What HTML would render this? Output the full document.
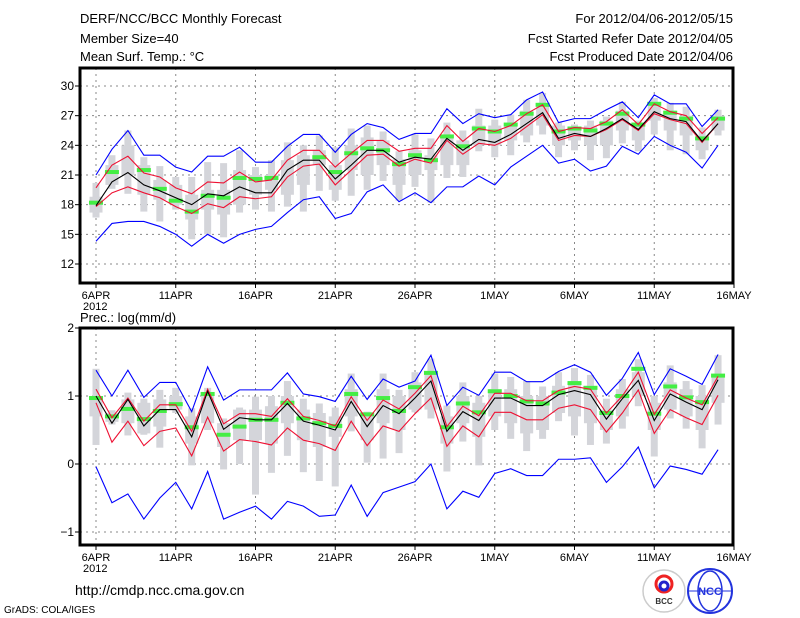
<!DOCTYPE html>
<html><head><meta charset="utf-8"><style>
body{margin:0;background:#fff;width:800px;height:618px;overflow:hidden}
svg{display:block;font-family:"Liberation Sans",sans-serif}
</style></head><body>
<svg id="chart" width="800" height="618">
<g font-size="13" fill="#000">
<text x="80" y="23">DERF/NCC/BCC Monthly Forecast</text>
<text x="80" y="43">Member Size=40</text>
<text x="80" y="61">Mean Surf. Temp.: °C</text>
<text x="733" y="23" text-anchor="end">For 2012/04/06-2012/05/15</text>
<text x="733" y="43" text-anchor="end">Fcst Started Refer Date 2012/04/05</text>
<text x="733" y="61" text-anchor="end">Fcst Produced Date 2012/04/06</text>
<text x="80" y="322">Prec.: log(mm/d)</text>
</g>
<text x="75" y="595" font-size="14">http://cmdp.ncc.cma.gov.cn</text>
<text x="4" y="613" font-size="10">GrADS: COLA/IGES</text>
<g>
<circle cx="664" cy="591" r="21" fill="#fff" stroke="#ccc" stroke-width="1.5"/>
<circle cx="664" cy="584" r="8" fill="none" stroke="#e22" stroke-width="3"/>
<circle cx="664" cy="586" r="4" fill="none" stroke="#22c" stroke-width="3"/>
<text x="664" y="604" font-size="8" text-anchor="middle" fill="#333" font-weight="bold">BCC</text>
</g>
<g>
<circle cx="710" cy="591" r="22" fill="#fff" stroke="#2233dd" stroke-width="2"/>
<ellipse cx="710" cy="591" rx="12" ry="20" fill="none" stroke="#2233dd" stroke-width="1.5"/>
<line x1="688" y1="591" x2="732" y2="591" stroke="#2233dd"/>
<text x="710" y="595" font-size="11" text-anchor="middle" fill="#2233dd" font-weight="bold">NCC</text>
</g>
</svg>
<script>
// ---- Temperature panel data (day 0 = 6APR) ----
const tempMedian=[17.9,20.3,21.25,20.0,19.4,18.7,18.0,19.1,18.9,19.8,19.2,19.2,21.5,22.5,22.5,20.6,22.0,23.5,23.5,22.3,22.8,22.6,24.7,23.5,24.6,24.3,25.1,26.2,27.3,24.7,25.2,24.9,25.7,26.7,25.6,27.4,26.7,26.4,24.4,26.2];
const tempRedHi=[19.7,22.0,22.9,21.2,20.8,19.7,19.1,20.3,20.2,21.3,20.3,20.5,22.5,23.5,23.5,21.8,23.2,24.5,24.5,23.4,23.7,23.7,26.0,24.4,25.7,25.4,26.0,27.2,28.1,25.4,25.8,25.7,26.4,27.6,26.1,28.2,27.4,27.0,25.2,26.8];
const tempRedLo=[17.8,19.2,19.8,19.2,18.7,17.8,17.1,18.1,17.7,18.8,18.6,18.8,20.8,21.9,22.1,20.0,21.5,23.0,23.1,21.9,22.6,22.2,24.5,23.1,24.2,24.0,24.7,25.9,27.1,24.5,25.0,24.9,25.6,26.6,25.5,27.2,26.6,26.2,24.3,26.2];
const tempBlueHi=[21.0,23.6,25.5,23.0,23.0,21.8,21.3,22.9,22.9,23.8,22.3,22.3,23.9,25.1,25.1,23.3,25.1,26.2,25.8,24.6,25.2,25.2,27.7,26.2,27.2,26.8,27.1,28.6,29.4,26.3,26.7,26.7,27.6,28.4,26.8,29.1,28.2,28.2,25.9,27.6];
const tempBlueLo=[14.3,16.1,16.3,16.3,15.8,15.0,13.8,15.0,14.1,15.0,15.5,15.8,17.2,18.5,18.8,16.6,17.1,19.3,20.0,18.3,19.2,18.2,19.8,19.8,20.9,20.0,21.8,22.9,24.0,22.2,22.6,21.4,21.9,23.9,23.1,24.9,24.0,23.3,21.7,24.0];
const tempMin=[16.7,19.6,19.1,17.3,16.3,17.5,14.5,15.0,14.7,17.2,17.5,17.3,17.8,17.3,19.4,18.4,18.9,19.5,20.4,18.4,19.8,18.2,20.7,20.8,23.4,22.8,23.0,24.3,25.1,22.8,23.5,22.5,22.7,24.2,23.4,25.1,23.5,23.1,22.6,25.0];
const tempMax=[20.2,23.0,25.5,22.8,21.9,20.8,20.8,22.3,22.2,23.5,21.8,22.5,24.3,24.0,25.0,23.8,25.7,26.0,25.4,23.4,25.1,24.7,26.3,25.5,27.7,26.6,27.1,28.6,29.3,26.3,26.1,26.5,26.9,28.4,26.5,28.8,28.3,27.9,25.8,27.6];
const tempQ1=[17.2,20.0,21.0,19.0,18.5,18.0,16.5,17.5,17.0,18.0,19.0,19.5,19.0,20.0,22.0,19.5,21.5,21.0,22.0,20.0,21.0,21.5,22.0,22.0,24.0,24.0,24.5,25.0,26.0,24.0,24.5,24.0,24.0,25.5,24.5,26.5,25.5,25.0,23.5,25.5];
const tempQ3=[18.8,22.0,24.0,22.0,20.5,20.0,19.0,19.5,19.5,21.5,21.0,21.0,22.5,23.0,23.5,22.0,24.0,24.8,24.5,22.6,23.5,23.0,25.0,24.5,26.0,26.0,26.0,27.5,28.0,26.0,25.8,26.0,26.5,27.5,26.0,28.0,27.5,27.0,25.0,27.0];
const tempGreen=[18.2,21.3,null,21.5,19.6,18.4,17.3,18.9,18.7,20.7,20.6,20.7,null,null,22.8,21.3,23.2,23.7,23.5,22.1,23.0,22.5,24.9,23.9,25.7,25.4,26.1,27.2,28.1,25.4,25.7,25.5,26.2,27.2,26.1,28.2,27.3,26.7,24.7,26.7];
const tempTicks=[12,15,18,21,24,27,30];
// ---- Precipitation panel data ----
const precMedian=[1.0,0.6,0.95,0.56,0.8,0.8,0.4,1.07,0.51,0.68,0.65,0.65,0.89,0.63,0.57,0.5,0.92,0.55,0.86,0.74,0.97,1.22,0.48,0.77,0.64,0.97,0.97,0.86,0.86,1.02,1.08,1.02,0.66,0.96,1.23,0.64,1.03,0.91,0.8,1.24];
const precRedHi=[1.1,0.68,0.97,0.63,0.87,0.87,0.48,1.1,0.59,0.74,0.74,0.7,0.96,0.7,0.64,0.56,0.99,0.64,0.94,0.81,1.04,1.3,0.55,0.85,0.71,1.04,1.04,0.93,0.93,1.08,1.14,1.1,0.75,1.0,1.35,0.73,1.09,0.97,0.87,1.29];
const precRedLo=[0.9,0.32,0.63,0.27,0.48,0.53,0.12,0.69,0.19,0.36,0.33,0.28,0.53,0.35,0.3,0.2,0.63,0.27,0.56,0.48,0.74,0.97,0.26,0.56,0.4,0.76,0.76,0.65,0.65,0.82,0.87,0.8,0.47,0.75,1.09,0.45,0.8,0.68,0.58,1.01];
const precBlueHi=[1.38,1.0,1.38,0.98,1.2,1.2,0.77,1.43,0.94,1.09,1.09,1.09,1.34,1.03,0.99,0.92,1.29,0.95,1.25,1.13,1.22,1.6,0.86,1.13,1.01,1.35,1.35,1.21,1.21,1.36,1.46,1.35,1.01,1.26,1.64,1.02,1.4,1.29,1.17,1.61];
const precBlueLo=[-0.04,-0.57,-0.44,-0.81,-0.5,-0.27,-0.66,-0.11,-0.81,-0.71,-0.62,-0.81,-0.55,-0.62,-0.77,-0.75,-0.31,-0.77,-0.42,-0.34,-0.26,0.0,-0.66,-0.4,-0.49,-0.14,-0.07,-0.17,-0.17,0.07,0.07,0.09,-0.27,-0.04,0.25,-0.35,-0.03,-0.08,-0.15,0.21];
const precMin=[0.28,0.58,0.42,0.43,0.24,0.75,-0.02,0.5,-0.08,0.0,-0.45,-0.13,0.12,-0.12,-0.25,-0.33,0.48,0.02,0.08,0.16,0.76,0.67,-0.11,0.33,-0.02,0.5,0.37,0.19,0.37,0.63,0.42,0.28,0.3,0.52,0.85,0.11,0.67,0.52,0.23,0.58];
const precMax=[1.4,0.79,1.05,0.96,1.09,1.12,0.82,1.12,0.67,0.83,0.99,1.0,1.22,0.96,0.89,0.83,1.33,0.77,1.33,1.09,1.35,1.55,0.86,1.2,1.0,1.33,1.28,1.22,1.14,1.35,1.41,1.31,0.96,1.25,1.54,1.0,1.45,1.22,1.16,1.6];
const precQ1=[0.7,0.62,0.6,0.45,0.55,0.8,0.3,0.6,0.25,0.35,0.35,0.3,0.6,0.35,0.25,0.4,0.7,0.35,0.6,0.5,0.8,0.8,0.3,0.6,0.4,0.7,0.6,0.45,0.5,0.75,0.7,0.6,0.5,0.7,1.0,0.5,0.8,0.7,0.5,0.9];
const precQ3=[1.0,0.75,0.95,0.9,0.95,1.0,0.7,1.05,0.6,0.8,0.8,0.85,1.0,0.8,0.75,0.7,1.1,0.7,1.1,1.0,1.2,1.35,0.7,1.0,0.9,1.1,1.1,1.0,1.0,1.15,1.2,1.15,0.8,1.1,1.35,0.9,1.2,1.1,1.0,1.3];
const precGreen=[0.97,0.7,0.81,0.66,0.78,0.88,0.54,1.03,0.43,0.55,0.65,0.65,0.9,0.67,0.6,0.56,1.03,0.73,0.97,0.78,1.13,1.34,0.54,0.89,0.76,1.07,1.0,0.92,0.89,1.05,1.19,1.12,0.75,1.0,1.4,0.74,1.14,0.98,0.91,1.3];
const precTicks=[-1,0,1,2];
const dateLabels=["6APR","11APR","16APR","21APR","26APR","1MAY","6MAY","11MAY","16MAY"];
const dateLabelDays=[0,5,10,15,20,25,30,35,40];

const NS="http://www.w3.org/2000/svg";
const svg=document.getElementById('chart');
function mk(tag,attrs,parent){const e=document.createElementNS(NS,tag);for(const k in attrs)e.setAttribute(k,attrs[k]);(parent||svg).appendChild(e);return e;}
const X0=80,X1=733;
function xDay(d){return 96+15.95*d;}

function panel(name,top,bottom,vTop,vBot,ticks,med,rh,rl,bh,bl,mn,mx,q1,q3,gr){
  const y=v=>top+(vTop-v)/(vTop-vBot)*(bottom-top);
  const g=mk('g',{});
  
  
  // grid
  ticks.forEach(t=>{
    const l=mk('line',{x1:X0,x2:X1,y1:y(t),y2:y(t),stroke:'#888','stroke-dasharray':'2,4'},g);
    
    
    mk('line',{x1:X0-5,x2:X0,y1:y(t),y2:y(t),stroke:'#000'},g);
    const tx=mk('text',{x:X0-6,y:y(t)+4,'font-size':12,'text-anchor':'end'},g);
    tx.textContent=t<0?'\u2212'+Math.abs(t):t;
    
    
  });
  dateLabelDays.forEach((d,i)=>{
    const x=xDay(d);
    if(i<dateLabelDays.length-1){
      const l=mk('line',{x1:x,x2:x,y1:top,y2:bottom,stroke:'#888','stroke-dasharray':'2,4'},g);
      
      
    }
    mk('line',{x1:x,x2:x,y1:bottom,y2:bottom+5,stroke:'#000'},g);
    const tx=mk('text',{x:x,y:bottom+16,'font-size':11,'text-anchor':'middle'},g);
    tx.textContent=dateLabels[i];
    
    
  });
  const yr=mk('text',{x:xDay(0)-13,y:bottom+27,'font-size':11},g);
  yr.textContent='2012';
  
  
  // gray boxes
  for(let d=0;d<mn.length;d++){
    const x=xDay(d);
    const w=mk('rect',{x:x-3.5,y:y(mx[d]),width:7,height:y(mn[d])-y(mx[d]),fill:'#d4d5da'},g);
    
    
    const b=mk('rect',{x:x-6.5,y:y(q3[d]),width:13,height:y(q1[d])-y(q3[d]),fill:'#d4d5da'},g);
    
    
  }
  // green marks
  for(let d=0;d<gr.length;d++){
    if(gr[d]===null)continue;
    const x=xDay(d);
    const r=mk('rect',{x:x-7,y:y(gr[d])-2,width:14,height:4,fill:'#44ee44'},g);
    
    
  }
  const line=(arr,col,nm)=>{
    const p=mk('polyline',{points:arr.map((v,d)=>xDay(d)+','+y(v)).join(' '),fill:'none',stroke:col,'stroke-width':1.1},g);
    
    
  };
  line(bh,'#0000ff','blue-upper-line');
  line(bl,'#0000ff','blue-lower-line');
  line(rh,'#ee1133','red-upper-line');
  line(rl,'#ee1133','red-lower-line');
  line(med,'#000','median-line');
  const f=mk('rect',{x:X0,y:top,width:X1-X0,height:bottom-top,fill:'none',stroke:'#000','stroke-width':3},g);
  
  
}
// top panel: 30 at y=86, 12 at y=264 -> frame 68..283
panel('temperature-panel',68,283,30+18/178*18,30-197/178*18,tempTicks,tempMedian,tempRedHi,tempRedLo,tempBlueHi,tempBlueLo,tempMin,tempMax,tempQ1,tempQ3,tempGreen);
// bottom panel: 2 at 328, -1 at 532 -> frame 328..545
panel('precipitation-panel',328,545,2,-1-13/68,precTicks,precMedian,precRedHi,precRedLo,precBlueHi,precBlueLo,precMin,precMax,precQ1,precQ3,precGreen);
</script>
</body></html>
